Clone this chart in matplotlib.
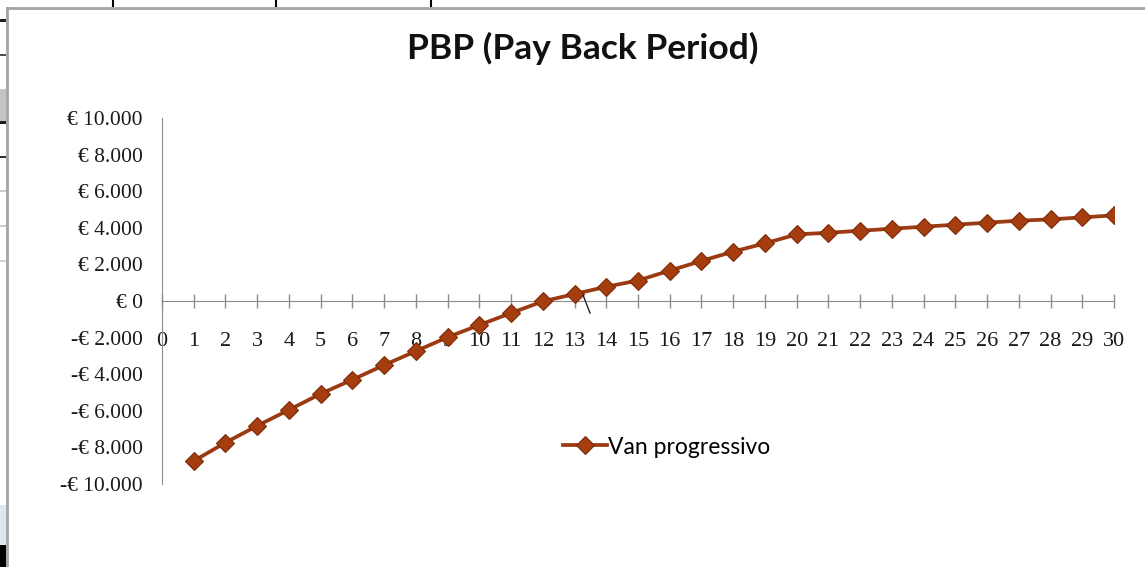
"""PBP (Pay Back Period) chart: cumulative NPV by year."""
import matplotlib
matplotlib.use('Agg')
import matplotlib.pyplot as plt
from matplotlib.lines import Line2D
from matplotlib.patches import Rectangle
from matplotlib.ticker import FuncFormatter

# Years and cumulative NPV ("Van progressivo")
anni = list(range(1, 31))
van_progressivo = [-8740, -7740, -6820, -5950, -5070, -4300, -3500, -2740, -1980, -1310,
                   -660, -20, 380, 780, 1120, 1660, 2190, 2700, 3150, 3640,
                   3730, 3840, 3950, 4060, 4170, 4280, 4390, 4460, 4570, 4680]
y_ticks = list(range(-10000, 10001, 2000))
x_ticks = list(range(0, 31))

W, H = 1145, 567
fig = plt.figure(figsize=(W / 100, H / 100), dpi=100)
fig.patch.set_facecolor('white')


def fx(px):
    return px / W


def fy(py):
    return 1 - py / H


# spreadsheet bits showing around the chart object
for y0, y1, c in [(19, 22, '#202020'), (54, 56, '#505050'), (89, 122, '#c4c4c4'),
                  (121, 124, '#202020'), (156, 158, '#303030'), (190, 192, '#c8ccd4'),
                  (225, 227, '#c8ccd4'), (260, 262, '#d0d4dc'), (505, 545, '#dfe6ef'),
                  (545, 567, '#000000')]:
    fig.add_artist(Rectangle((0, fy(y1)), fx(6), fy(y0) - fy(y1), transform=fig.transFigure,
                             facecolor=c, edgecolor='none'))
for xp in [113, 276, 431]:
    fig.add_artist(Line2D([fx(xp), fx(xp)], [fy(0), fy(6)], transform=fig.transFigure,
                          color='black', lw=1.5))
# chart object border
fig.add_artist(Line2D([fx(7), fx(7)], [fy(8), 0], transform=fig.transFigure, color='#a4a4a4', lw=2))
fig.add_artist(Line2D([fx(7), 1], [fy(8), fy(8)], transform=fig.transFigure, color='#a4a4a4', lw=2))

ax = fig.add_axes([fx(162), fy(484), fx(1114) - fx(162), fy(118) - fy(484)])
ax.set_xlim(0, 30)
ax.set_ylim(-10000, 10000)

ax.plot(anni, van_progressivo, color='#9c3a12', lw=2.7, marker='D', markersize=9,
        markerfacecolor='#a63d0e', markeredgecolor='#7c2c0a', markeredgewidth=0.8,
        label='Van progressivo', zorder=3)

for s in ['top', 'right']:
    ax.spines[s].set_visible(False)
ax.spines['left'].set_color('#8c8c8c')
ax.spines['bottom'].set_position(('data', 0))
ax.spines['bottom'].set_color('#8c8c8c')

ax.set_yticks(y_ticks)
ax.yaxis.set_major_formatter(FuncFormatter(
    lambda v, p: ('-' if v < 0 else '') + '€ ' + f'{abs(int(v)):,}'.replace(',', '.')))
ax.tick_params(axis='y', length=0, pad=14, labelsize=15.5, labelcolor='#1a1a1a')
ax.set_xticks(x_ticks)
ax.set_xticklabels([str(i) for i in x_ticks])
ax.tick_params(axis='x', direction='inout', length=10, width=1, color='#8c8c8c',
               pad=17, labelsize=16, labelcolor='#1a1a1a')
for lab in ax.get_xticklabels() + ax.get_yticklabels():
    lab.set_family('Liberation Serif')

fig.text(fx(583), fy(48), 'PBP (Pay Back Period)', ha='center', va='center',
         fontsize=25.5, fontweight='bold', family='Lato', color='#111111')

ax.legend(loc='center left', bbox_to_anchor=(fx(563), fy(447)), bbox_transform=fig.transFigure,
          frameon=False, handlelength=1.9, handletextpad=0.05, borderpad=0, borderaxespad=0,
          prop={'family': 'Lato', 'size': 16.5})

# short leader stroke near year 13
fig.add_artist(Line2D([fx(583), fx(590)], [fy(295), fy(313)], transform=fig.transFigure,
                      color='#222222', lw=1))

fig.savefig('out.png', dpi=100, facecolor='white')
